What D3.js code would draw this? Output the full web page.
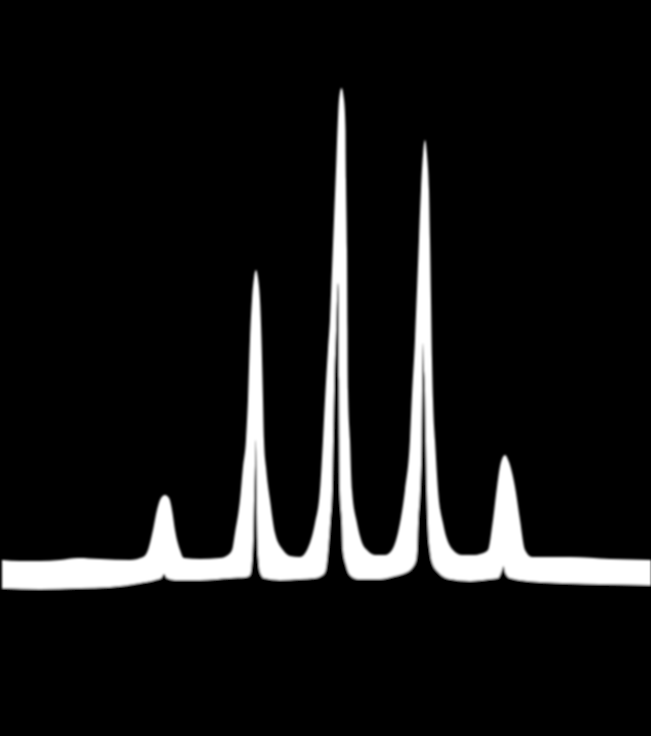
<!DOCTYPE html>
<html>
<head>
<meta charset="utf-8">
<script src="https://cdn.jsdelivr.net/npm/d3@7"></script>
<style>
  html, body { margin: 0; padding: 0; background: #000; }
  #graph { width: 651px; height: 736px; }
</style>
</head>
<body>
<div id="graph"></div>
<script>
// scope trace: [channel, counts]
// upper edge of the glowing trace
const upperTrace = [
  [2, 40], [20, 39], [40, 39], [60, 40], [78, 42], [100, 41], [130, 40], [143, 43],
  [148, 50], [153, 70], [157, 90], [161, 102], [165, 105], [169, 102], [172, 90], [175, 70], [180, 50], [184, 42], [200, 41],
  [220, 42], [228, 45], [232, 50], [235, 67], [240, 100], [243, 133], [246, 160], [248, 200], [250, 260], [252, 300], [254, 322],
  [256, 330], [258, 322], [260, 300], [261.5, 260], [263, 200], [264, 160], [266, 133], [270, 100], [275, 67], [283, 50], [290, 44],
  [300, 43], [307, 50], [315, 77], [320, 110], [323, 160], [325, 200], [328, 250], [330, 280], [332, 330], [334, 380], [336, 430],
  [337.5, 470], [339, 500], [341.5, 512], [344, 500], [345.5, 470], [346, 420], [347, 350], [347.5, 270], [348, 210], [350, 160],
  [352, 110], [357, 77], [363, 55], [367, 50], [375, 45],
  [385, 45], [392, 50], [400, 77], [405, 110], [410, 160], [412, 205], [415, 260], [417, 310], [419, 360], [421, 410], [423, 445],
  [425, 460], [427, 445], [429, 410], [430, 360], [431, 300], [432, 240], [433, 200], [435, 160], [438, 110], [443, 77], [453, 50],
  [462, 45], [475, 45],
  [480, 46], [488, 50], [493, 80], [497, 113], [501, 138], [505, 145], [509, 138], [515, 113], [520, 80], [525, 50], [532, 43],
  [570, 43], [610, 41], [651, 40]
]

// lower edge of the trace (it rises inside each peak -> the dark slit)
const lowerTrace = [
  [2, 12], [40, 11], [80, 12], [110, 13], [140, 17], [155, 20], [161, 22], [164, 26], [167, 22], [175, 20], [200, 20], [230, 22], [246, 23],
  [250, 25], [252, 40], [253, 60], [254, 100], [255, 135], [255.7, 160], [256.5, 130], [257, 90], [257.5, 60], [258.5, 40], [260, 28],
  [264, 22], [280, 20], [300, 21],
  [315, 22], [321, 24], [325, 28], [328, 50], [330, 77], [332, 110], [333, 160], [334, 210], [336, 270], [337, 300], [338, 317],
  [339, 295], [339.2, 220], [339.5, 160], [340, 110], [342, 77], [343, 50], [346, 35], [350, 25], [358, 21], [380, 21],
  [395, 24], [405, 27], [412, 32], [416, 40], [417, 50], [418, 77], [420, 110], [421.5, 160], [422, 210], [422.5, 240],
  [423, 257], [423.5, 240], [425, 210], [426, 160], [427, 110], [428, 77], [430, 50], [432, 38], [438, 28], [450, 21], [470, 19],
  [490, 21], [498, 22], [502, 30], [503.5, 34], [505, 28], [510, 22], [540, 18], [600, 16], [651, 15]
]

const width = 651
const height = 736

const svg = d3.select('#graph')
  .append('svg')
  .attr('width', width)
  .attr('height', height)

svg.append('rect')
  .attr('width', width)
  .attr('height', height)
  .attr('fill', '#000')

// soft glow on the edges like the photo
svg.append('defs')
  .append('filter')
  .attr('id', 'soft')
  .append('feGaussianBlur')
  .attr('stdDeviation', 0.9)

const x = d3.scaleLinear()
  .domain([0, 651])
  .range([0, width])

const y = d3.scaleLinear()
  .domain([0, 600])
  .range([600, 0])

const trace = svg.append('g').attr('filter', 'url(#soft)')

// white from the upper edge down
const upperArea = d3.area()
  .x(d => x(d[0]))
  .y0(y(0))
  .y1(d => y(d[1]))
  .curve(d3.curveMonotoneX)

// black again below the lower edge
const lowerArea = d3.area()
  .x(d => x(d[0]))
  .y0(y(-20))
  .y1(d => y(d[1]))
  .curve(d3.curveMonotoneX)

trace.append('path')
  .datum(upperTrace)
  .attr('fill', '#fff')
  .attr('d', upperArea)

trace.append('path')
  .datum(lowerTrace)
  .attr('fill', '#000')
  .attr('d', lowerArea)
</script>
</body>
</html>
